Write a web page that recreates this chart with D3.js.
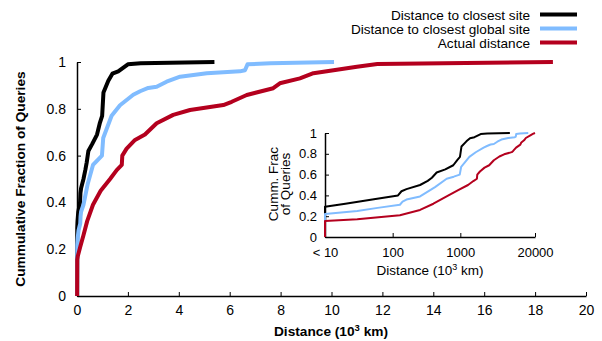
<!DOCTYPE html>
<html><head><meta charset="utf-8">
<script src="https://cdn.jsdelivr.net/npm/d3@7/dist/d3.min.js"></script>
<style>
body{margin:0;background:#fff;}
svg text{font-family:"Liberation Sans",Arial,Helvetica,sans-serif;}
</style></head>
<body><svg id="c" width="602" height="341"></svg>
<script>
// Series: [distance in km, cumulative fraction]
const closestSite = [[5,0],[9,0.29],[20,0.32],[50,0.36],[120,0.40],[135,0.44],[160,0.46],[254,0.50],[330,0.54],[380,0.57],[447,0.62],[600,0.65],[787,0.69],[900,0.74],[988,0.77],[1040,0.87],[1230,0.92],[1390,0.95],[1620,0.96],[2000,0.99],[2500,0.995],[5400,1.0]];
const closestGlobal = [[5,0],[9,0.21],[10,0.22],[30,0.25],[60,0.28],[128,0.31],[140,0.34],[160,0.36],[254,0.39],[423,0.48],[628,0.56],[800,0.58],[980,0.60],[1030,0.675],[1360,0.77],[1690,0.815],[2210,0.86],[2480,0.875],[2800,0.889],[3130,0.894],[3520,0.916],[4050,0.937],[5100,0.952],[6400,0.96],[6600,0.965],[6700,0.99],[7600,0.995],[10100,1.0]];
const actualDist = [[5,0],[9,0.155],[30,0.17],[128,0.21],[254,0.26],[400,0.32],[628,0.39],[930,0.45],[1300,0.50],[1560,0.538],[1760,0.56],[1780,0.60],[1950,0.63],[2280,0.667],[2670,0.69],[3130,0.738],[3780,0.774],[4440,0.795],[5750,0.816],[6080,0.83],[6670,0.859],[7710,0.888],[7970,0.909],[8760,0.93],[9290,0.952],[11000,0.98],[11800,0.991],[18700,1.0]];
const seriesNames = ["Distance to closest site","Distance to closest global site","Actual distance"];
const seriesColors = ["#000000","#80bcff","#b4001e"];
const mainXTicks = [0,2,4,6,8,10,12,14,16,18,20];
const mainYTicks = [0,0.2,0.4,0.6,0.8,1];
const insetXTicks = [10,100,1000,12700];
const insetXLabels = ["< 10","100","1000","20000"];
const insetYTicks = [0,0.2,0.4,0.6,0.8,1];

const FS = 14, FSB = 13.7, FSI = 13, FSL = 13.6;
const svg = d3.select("#c");
const series = [closestSite, closestGlobal, actualDist];
const yFmt = d=>d===0?"0":d===1?"1":d3.format(".1f")(d);

// main
const x = d3.scaleLinear().domain([0,20]).range([77,586]);
const y = d3.scaleLinear().domain([0,1]).range([296,62]);
const gx = svg.append("g").attr("transform","translate(0,296)")
  .call(d3.axisBottom(x).tickValues(mainXTicks).tickFormat(d3.format("d")).tickSizeInner(-4).tickSizeOuter(0).tickPadding(9));
const gy = svg.append("g").attr("transform","translate(77,0)")
  .call(d3.axisLeft(y).tickValues(mainYTicks).tickFormat(yFmt).tickSizeInner(-4).tickSizeOuter(0).tickPadding(11));
[gx,gy].forEach(g=>{g.selectAll("text").attr("font-size",FS).attr("fill","#000").attr("font-family","Liberation Sans, Arial, sans-serif");
  g.select(".domain").attr("stroke","#000").attr("stroke-width",1.5);
  g.selectAll(".tick line").attr("stroke","#000");});

const line = d3.line().x(d=>x(d[0]/1000)).y(d=>y(d[1]));
series.forEach((s,i)=>{
  svg.append("path").datum(s).attr("d",line).attr("fill","none")
    .attr("stroke",seriesColors[i]).attr("stroke-width",4).attr("stroke-linejoin","round");
});

// titles
const xt = svg.append("text").attr("x",331).attr("y",336).attr("text-anchor","middle")
  .attr("font-size",FSB).attr("font-weight","bold");
xt.append("tspan").text("Distance (10");
xt.append("tspan").text("3").attr("font-size",9.5).attr("dy",-5);
xt.append("tspan").text(" km)").attr("dy",5);
svg.append("text").attr("transform","translate(25,179) rotate(-90)").attr("text-anchor","middle")
  .attr("font-size",FSB).attr("font-weight","bold").text("Cummulative Fraction of Queries");

// legend
seriesNames.forEach((n,i)=>{
  const yy = 14.5 + i*14;
  svg.append("text").attr("x",530).attr("y",yy+5).attr("text-anchor","end").attr("font-size",FSL).text(n);
  svg.append("line").attr("x1",540).attr("x2",577).attr("y1",yy).attr("y2",yy)
    .attr("stroke",seriesColors[i]).attr("stroke-width",4);
});

// inset
const xi = d3.scaleLog().domain([10,12700]).range([325,535]).clamp(true);
const yi = d3.scaleLinear().domain([0,1]).range([237,133]);
const gxi = svg.append("g").attr("transform","translate(0,237)")
  .call(d3.axisBottom(xi).tickValues(insetXTicks).tickFormat((d,i)=>insetXLabels[i]).tickSizeInner(-4).tickSizeOuter(0).tickPadding(11));
const gyi = svg.append("g").attr("transform","translate(325,0)")
  .call(d3.axisLeft(yi).tickValues(insetYTicks).tickFormat(yFmt).tickSizeInner(-4).tickSizeOuter(0).tickPadding(8));
[gxi,gyi].forEach(g=>{g.selectAll("text").attr("font-size",FSI).attr("fill","#000").attr("font-family","Liberation Sans, Arial, sans-serif");
  g.select(".domain").attr("stroke","#000").attr("stroke-width",1.5);
  g.selectAll(".tick line").attr("stroke","#000");});
const linei = d3.line().x(d=>xi(d[0])).y(d=>yi(d[1]));
series.forEach((s,i)=>{
  svg.append("path").datum(s).attr("d",linei).attr("fill","none")
    .attr("stroke",seriesColors[i]).attr("stroke-width",2).attr("stroke-linejoin","round");
});
const xti = svg.append("text").attr("x",430).attr("y",275).attr("text-anchor","middle").attr("font-size",FSI+0.5);
xti.append("tspan").text("Distance (10");
xti.append("tspan").text("3").attr("font-size",9).attr("dy",-5);
xti.append("tspan").text(" km)").attr("dy",5);
const yti = svg.append("text").attr("transform","translate(278,184) rotate(-90)").attr("text-anchor","middle").attr("font-size",FSI+0.5);
yti.append("tspan").attr("x",0).attr("dy",0).text("Cumm. Frac");
yti.append("tspan").attr("x",0).attr("dy",12).text("of Queries");
</script></body></html>
